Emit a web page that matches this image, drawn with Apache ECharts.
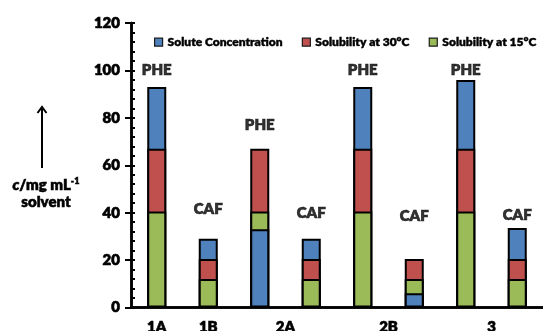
<!DOCTYPE html>
<html>
<head>
<meta charset="utf-8">
<script src="https://cdn.jsdelivr.net/npm/echarts@6/dist/echarts.min.js"></script>
<style>
  html, body { margin: 0; padding: 0; background: #fff; }
  #main { width: 543px; height: 331px; }
</style>
</head>
<body>
<div id="main"></div>
<script>
// 8 bars: PHE / CAF per experiment
var categories = ['1A PHE', '1B CAF', '2A PHE', '2A CAF', '2B PHE', '2B CAF', '3 PHE', '3 CAF'];
var soluteConc = [93, 29, 33, 29, 93, 6, 96, 33.5];
var sol30 = [67, 20.5, 67, 20.5, 67, 20.5, 67, 20.5];
var sol15 = [40.5, 12, 40.5, 12, 40.5, 12, 40.5, 12];

// text above each bar and the height where it sits
var barText = ['PHE', 'CAF', 'PHE', 'CAF', 'PHE', 'CAF', 'PHE', 'CAF'];
var barTextY = [100.3, 41.6, 76.8, 40, 100.3, 38.7, 100.3, 39.1];

// group labels under the axis
var groupNames = ['1A', '1B', '2A', '2B', '3'];
var groupBars = [[0], [1], [2, 3], [4, 5], [6, 7]];

var yTicks = [0, 20, 40, 60, 80, 100, 120];

var blue = '#4F81BD', red = '#C0504D', green = '#9BBB59';
var font = 'Lato, "Open Sans", sans-serif';
var heavy = 800;
// thin outline so the text is as dark as in the picture
var ink = { color: '#000', textBorderColor: '#000', textBorderWidth: 0.6 };

// smaller values are drawn in front: concentration behind when largest, in front when smallest
var concBack = [], concFront = [];
for (var i = 0; i < soluteConc.length; i++) {
	if (soluteConc[i] < sol15[i]) {
		concBack.push('-');
		concFront.push(soluteConc[i]);
	} else {
		concBack.push(soluteConc[i]);
		concFront.push('-');
	}
}

var barStyle = function(color) {
	return { color: color, borderColor: '#000', borderWidth: 2 };
};

var myChart = echarts.init(document.getElementById('main'));

var option = {
	animation: false,
	textStyle: { fontFamily: font },
	grid: { left: 131, top: 23, width: 421.7, height: 284.5, containLabel: false },
	legend: {
		left: 149,
		top: 31,
		itemWidth: 8,
		itemHeight: 8,
		itemGap: 19,
		icon: 'rect',
		itemStyle: { borderColor: '#1a1a1a', borderWidth: 1.2 },
		textStyle: {
			fontFamily: font, fontWeight: heavy, fontSize: 12, color: '#000',
			textBorderColor: '#000', textBorderWidth: 0.4
		},
		data: ['Solute Concentration', 'Solubility at 30°C', 'Solubility at 15°C']
	},
	xAxis: [{
		type: 'category',
		data: categories,
		boundaryGap: true,
		axisLine: { lineStyle: { color: '#000', width: 2.5 } },
		axisTick: { show: false },
		axisLabel: { show: false }
	}, {
		type: 'category',
		data: categories,
		position: 'top',
		axisLine: { lineStyle: { color: '#000', width: 2.5 } },
		axisTick: { show: false },
		axisLabel: { show: false }
	}],
	yAxis: [{
		type: 'value',
		min: 0,
		max: 120,
		interval: 20,
		axisLine: { show: true, lineStyle: { color: '#000', width: 2.5 } },
		axisTick: { show: true, length: 6, lineStyle: { color: '#000', width: 2 } },
		splitLine: { show: false },
		axisLabel: {
			margin: 11,
			fontFamily: font,
			fontWeight: heavy,
			fontSize: 15,
			color: ink.color,
			textBorderColor: ink.textBorderColor,
			textBorderWidth: ink.textBorderWidth,
			formatter: function(v) { return yTicks.indexOf(v) >= 0 ? String(v) : ''; }
		}
	}, {
		type: 'value',
		position: 'left',
		min: 0,
		max: 120,
		interval: 20,
		axisLine: { show: true, lineStyle: { color: '#000', width: 2.5 } },
		axisTick: { show: true, inside: true, length: 4, lineStyle: { color: '#000', width: 2 } },
		minorTick: { show: true, splitNumber: 5, length: 4, lineStyle: { color: '#000', width: 2 } },
		splitLine: { show: false },
		axisLabel: { show: false }
	}],
	series: [{
		name: 'Solute Concentration',
		type: 'bar',
		barWidth: 19,
		barGap: '-100%',
		itemStyle: barStyle(blue),
		data: concBack
	}, {
		name: 'Solubility at 30°C',
		type: 'bar',
		barWidth: 19,
		barGap: '-100%',
		itemStyle: barStyle(red),
		data: sol30
	}, {
		name: 'Solubility at 15°C',
		type: 'bar',
		barWidth: 19,
		barGap: '-100%',
		itemStyle: barStyle(green),
		data: sol15
	}, {
		name: 'Solute Concentration',
		type: 'bar',
		barWidth: 19,
		barGap: '-100%',
		itemStyle: barStyle(blue),
		data: concFront
	}, {
		type: 'scatter',
		symbolSize: 0,
		silent: true,
		label: {
			show: true,
			position: 'inside',
			fontFamily: font,
			fontWeight: heavy,
			fontSize: 15,
			color: ink.color,
			textBorderColor: ink.textBorderColor,
			textBorderWidth: ink.textBorderWidth,
			formatter: function(p) { return barText[p.dataIndex]; }
		},
		data: barTextY
	}]
};

myChart.setOption(option);

// group labels under the bars and the y axis title
var graphics = [];
for (var g = 0; g < groupNames.length; g++) {
	var sum = 0;
	for (var k = 0; k < groupBars[g].length; k++) {
		sum += myChart.convertToPixel({ xAxisIndex: 0 }, groupBars[g][k]);
	}
	graphics.push({
		type: 'text',
		x: sum / groupBars[g].length,
		y: 320,
		style: {
			text: groupNames[g],
			fontFamily: font,
			fontWeight: heavy,
			fontSize: 15,
			fill: '#000',
			stroke: '#000',
			lineWidth: ink.textBorderWidth,
			align: 'center',
			verticalAlign: 'top'
		}
	});
}

graphics.push({
	type: 'line',
	shape: { x1: 42, y1: 109, x2: 42, y2: 168 },
	style: { stroke: '#000', lineWidth: 2 }
});
graphics.push({
	type: 'polyline',
	shape: { points: [[37.5, 113], [42, 107], [46.5, 113]] },
	style: { stroke: '#000', lineWidth: 2, fill: null }
});
graphics.push({
	type: 'text',
	x: 46,
	y: 177,
	style: {
		text: '{i|c}{n|/mg mL}{s|-1}\n{n|solvent}',
		align: 'center',
		verticalAlign: 'top',
		fill: '#000',
		stroke: '#000',
		lineWidth: 0.5,
		rich: {
			i: { fontFamily: font, fontWeight: heavy, fontStyle: 'italic', fontSize: 15, lineHeight: 17 },
			n: { fontFamily: font, fontWeight: heavy, fontSize: 15, lineHeight: 17 },
			s: { fontFamily: font, fontWeight: heavy, fontSize: 9, lineHeight: 17, verticalAlign: 'top' }
		}
	}
});

myChart.setOption({ graphic: graphics });
</script>
</body>
</html>
